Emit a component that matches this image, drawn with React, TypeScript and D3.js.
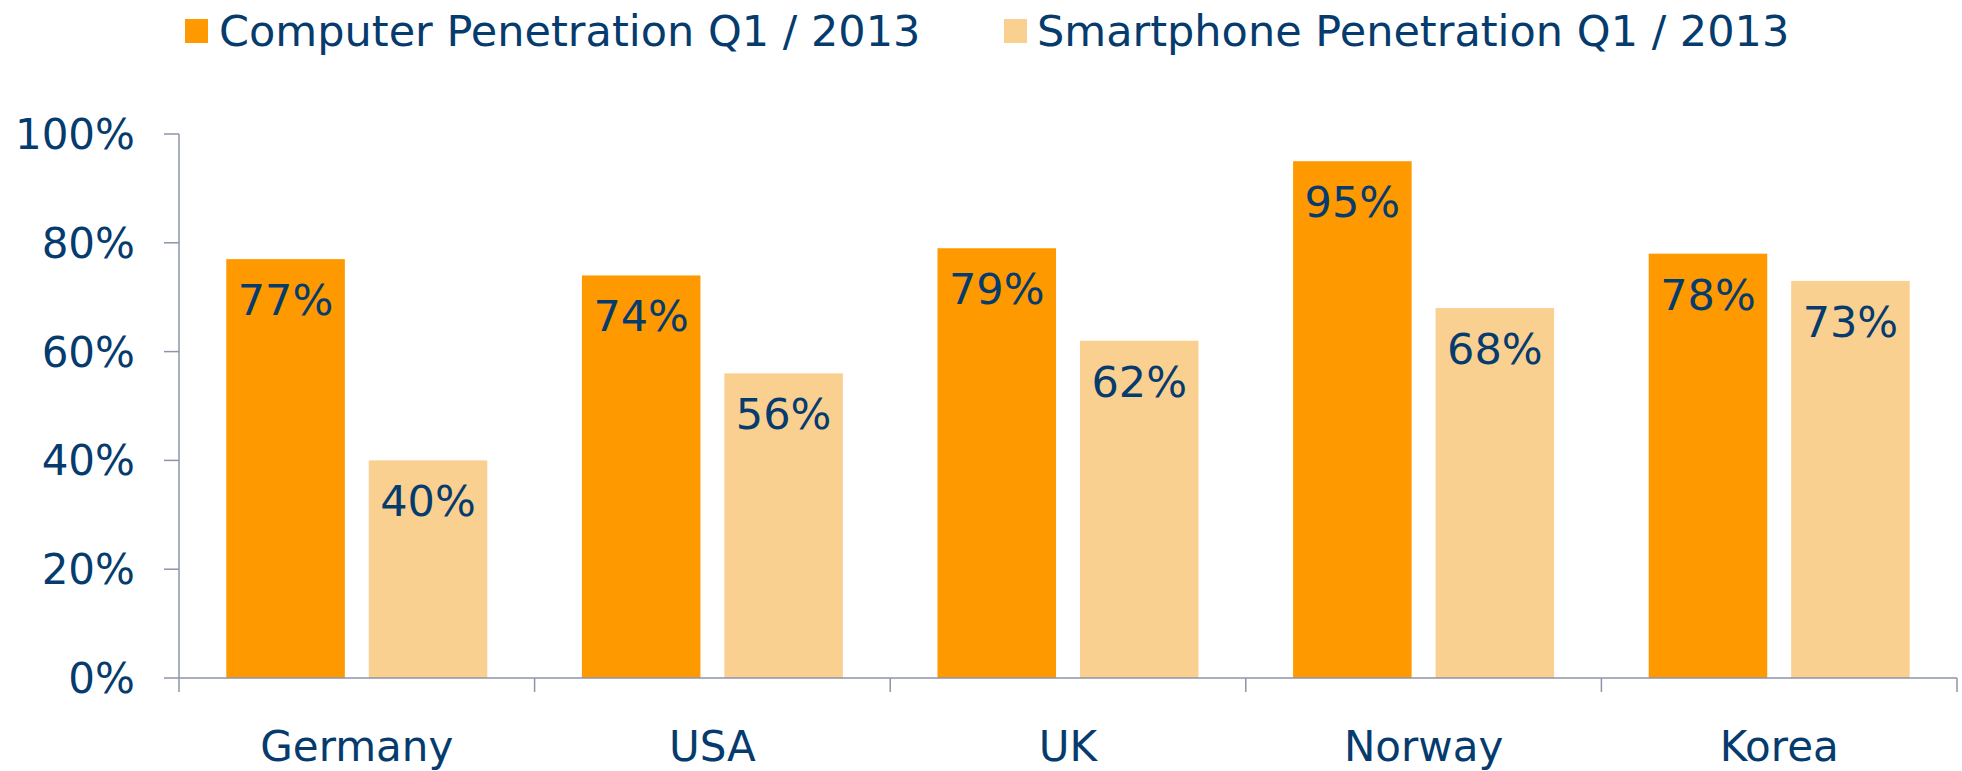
import React from "react";
import * as d3 from "d3";

const countries = ["Germany", "USA", "UK", "Norway", "Korea"];
const computerValues = [77, 74, 79, 95, 78];
const smartphoneValues = [40, 56, 62, 68, 73];
const seriesNames = ["Computer Penetration Q1 / 2013", "Smartphone Penetration Q1 / 2013"];
const yTicks = [0, 20, 40, 60, 80, 100];

const W = 1962;
const H = 771;
const COLORS = ["#FF9900", "#FAD090"];
const TEXT = "#063B6E";
const AXIS = "#8C95A8";
const FONT = "'DejaVu Sans', Verdana, sans-serif";

export default function App() {
  const left = 179;
  const right = 1957;
  const top = 134;
  const bottom = 678;

  const x = d3.scaleBand<string>().domain(countries).range([left, right]).paddingInner(0).paddingOuter(0);
  const inner = d3
    .scaleBand<string>()
    .domain(["c", "s"])
    .range([0, x.bandwidth()])
    .paddingInner(0.168)
    .paddingOuter(0.332);
  const y = d3.scaleLinear().domain([0, 100]).range([bottom, top]);

  const series = [computerValues, smartphoneValues];
  const keys = ["c", "s"];

  const boundaries = d3.range(countries.length + 1).map((i) => left + i * x.step());

  return (
    <svg
      width={W}
      height={H}
      style={{ position: "absolute", left: 0, top: 0, display: "block", background: "#fff" }}
      fontFamily={FONT}
    >
      {/* legend */}
      <g>
        <rect x={185} y={19} width={23} height={24} fill={COLORS[0]} />
        <text x={219} y={46} fontSize={43} fill={TEXT}>
          {seriesNames[0]}
        </text>
        <rect x={1004} y={19} width={23} height={24} fill={COLORS[1]} />
        <text x={1037} y={46} fontSize={43} fill={TEXT}>
          {seriesNames[1]}
        </text>
      </g>

      {/* bars */}
      {countries.map((c, i) => (
        <g key={c}>
          {series.map((vals, si) => {
            const bx = (x(c) as number) + (inner(keys[si]) as number);
            const bw = inner.bandwidth();
            return (
              <g key={si}>
                <rect x={bx} y={y(vals[i])} width={bw} height={y(0) - y(vals[i])} fill={COLORS[si]} />
                <text
                  x={bx + bw / 2}
                  y={y(vals[i]) + 56}
                  textAnchor="middle"
                  fontSize={43}
                  fill={TEXT}
                >
                  {vals[i]}%
                </text>
              </g>
            );
          })}
        </g>
      ))}

      {/* y axis */}
      <line x1={left} x2={left} y1={top} y2={bottom} stroke={AXIS} strokeWidth={1.5} />
      {yTicks.map((t) => (
        <g key={t}>
          <line x1={left - 15} x2={left} y1={y(t)} y2={y(t)} stroke={AXIS} strokeWidth={1.5} />
          <text x={135} y={y(t) + 15} textAnchor="end" fontSize={42} fill={TEXT}>
            {t}%
          </text>
        </g>
      ))}

      {/* x axis */}
      <line x1={left} x2={right} y1={bottom} y2={bottom} stroke={AXIS} strokeWidth={1.5} />
      {boundaries.map((bx, i) => (
        <line key={i} x1={bx} x2={bx} y1={bottom} y2={bottom + 14} stroke={AXIS} strokeWidth={1.5} />
      ))}
      {countries.map((c) => (
        <text
          key={c}
          x={(x(c) as number) + x.bandwidth() / 2}
          y={761}
          textAnchor="middle"
          fontSize={42}
          fill={TEXT}
        >
          {c}
        </text>
      ))}
    </svg>
  );
}
